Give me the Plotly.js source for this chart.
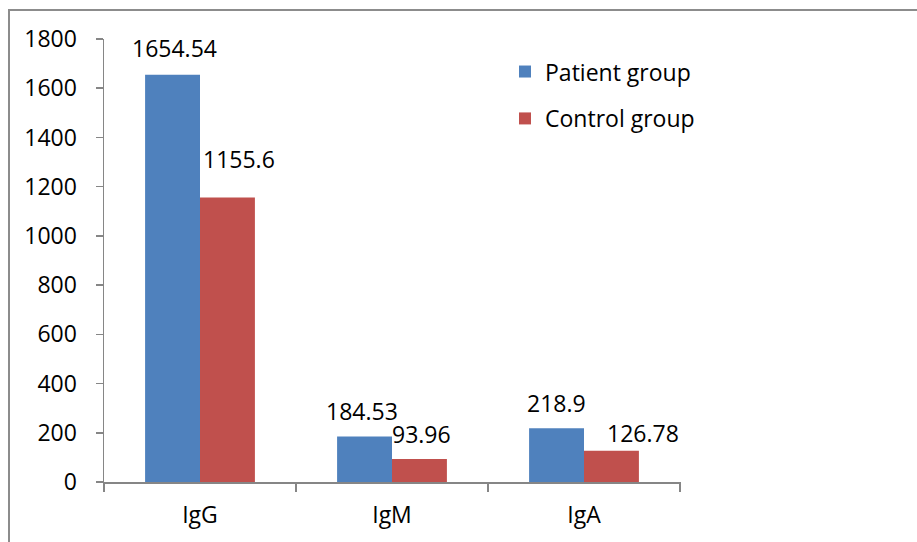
<!DOCTYPE html>
<html>
<head>
<meta charset="utf-8">
<script src="https://cdn.plot.ly/plotly-3.0.1.min.js"></script>
<style>
  html, body { margin: 0; padding: 0; background: #ffffff; }
  #wrap { position: relative; width: 917px; height: 542px; overflow: hidden; }
  #chart { position: absolute; left: 0; top: 0; width: 917px; height: 542px; }
  /* outer chart frame: only its left and top edges fall inside the canvas */
  #frame { position: absolute; left: 8px; top: 9px; width: 1000px; height: 700px;
           border-left: 2px solid #8c8c8c; border-top: 2px solid #8c8c8c; pointer-events: none; }
</style>
</head>
<body>
<div id="wrap">
  <div id="chart"></div>
  <div id="frame"></div>
</div>
<script>
// Immunoglobulin levels by group
const categories = ['IgG', 'IgM', 'IgA'];
const patientValues = [1654.54, 184.53, 218.9];
const controlValues = [1155.6, 93.96, 126.78];
const seriesNames = ['Patient group', 'Control group'];
const yTickValues = [0, 200, 400, 600, 800, 1000, 1200, 1400, 1600, 1800];

const FONT = 'Open Sans, Lato, sans-serif';
const FS = 23;
const BLUE = '#4F81BD';
const RED = '#C0504D';
const AXIS = '#868686';

const traces = [
  { type: 'bar', name: seriesNames[0], x: categories, y: patientValues,
    marker: { color: BLUE }, legendgroup: 'p', hoverinfo: 'y' },
  { type: 'bar', name: seriesNames[1], x: categories, y: controlValues,
    marker: { color: RED }, legendgroup: 'c', hoverinfo: 'y' }
];

// value labels: horizontal nudge (px) from the category centre and lift above the bar top
const patientLabelPos = [[-26, 27], [-30, 26], [-28, 25]];
const controlLabelPos = [[39, 39], [29, 25], [59, 18]];

const annotations = [];
categories.forEach((c, i) => {
  annotations.push({ x: c, y: patientValues[i], xref: 'x', yref: 'y',
    text: String(patientValues[i]), showarrow: false,
    xshift: patientLabelPos[i][0], yshift: patientLabelPos[i][1],
    xanchor: 'center', yanchor: 'middle',
    font: { family: FONT, size: FS, color: '#000000' } });
  annotations.push({ x: c, y: controlValues[i], xref: 'x', yref: 'y',
    text: String(controlValues[i]), showarrow: false,
    xshift: controlLabelPos[i][0], yshift: controlLabelPos[i][1],
    xanchor: 'center', yanchor: 'middle',
    font: { family: FONT, size: FS, color: '#000000' } });
});

const layout = {
  width: 917, height: 542,
  margin: { l: 104, r: 236, t: 39, b: 60, pad: 0 },
  paper_bgcolor: '#ffffff', plot_bgcolor: '#ffffff',
  font: { family: FONT, size: FS, color: '#000000' },
  barmode: 'group', bargap: 0.428, bargroupgap: 0,
  showlegend: true,
  legend: { x: 0.695, y: 0.975, xanchor: 'left', yanchor: 'top',
            traceorder: 'grouped', tracegroupgap: 14,
            bgcolor: 'rgba(0,0,0,0)', font: { family: FONT, size: FS, color: '#000000' } },
  xaxis: { type: 'category', showline: true, linecolor: AXIS, linewidth: 1.5,
           ticks: 'outside', tickson: 'boundaries', ticklen: 8, tickcolor: AXIS, tickwidth: 1.5,
           showgrid: false, zeroline: false, fixedrange: true, ticklabelstandoff: 12,
           tickfont: { family: FONT, size: FS, color: '#000000' } },
  yaxis: { range: [0, 1800], tickvals: yTickValues, showline: true, linecolor: AXIS, linewidth: 1.5,
           ticks: 'outside', ticklen: 7, tickcolor: AXIS, tickwidth: 1.5,
           showgrid: false, zeroline: false, fixedrange: true, ticklabelstandoff: 14,
           tickfont: { family: FONT, size: FS, color: '#000000' } },
  annotations: annotations
};

Plotly.newPlot('chart', traces, layout, { displayModeBar: false, staticPlot: true });
</script>
</body>
</html>
